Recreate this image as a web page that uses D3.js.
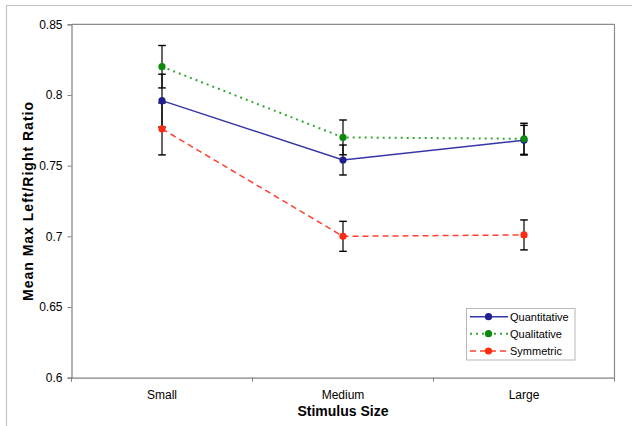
<!DOCTYPE html>
<html><head><meta charset="utf-8">
<script src="https://cdn.jsdelivr.net/npm/d3@7"></script>
<style>html,body{margin:0;padding:0;background:#fff;}svg{display:block;font-family:"Liberation Sans",Arial,sans-serif;}</style>
</head><body>
<script>
const categories = ["Small", "Medium", "Large"];
const quantitative = [0.796, 0.754, 0.768];
const quantitativeErr = [0.0187, 0.0106, 0.0105];
const qualitative = [0.820, 0.770, 0.769];
const qualitativeErr = [0.015, 0.0123, 0.011];
const symmetric = [0.776, 0.700, 0.701];
const symmetricErr = [0.0184, 0.0106, 0.0106];
const yTicks = [0.6, 0.65, 0.7, 0.75, 0.8, 0.85];
const yTickLabels = ["0.6", "0.65", "0.7", "0.75", "0.8", "0.85"];
const seriesNames = ["Quantitative", "Qualitative", "Symmetric"];

const W = 632, H = 426;
const L = 71.5, R = 614.5, T = 24.3, B = 377.7;

const svg = d3.select("body").append("svg").attr("width", W).attr("height", H);

// outer frame
svg.append("line").attr("x1", 6).attr("x2", W).attr("y1", 5.5).attr("y2", 5.5).attr("stroke", "#c4c4c4").attr("stroke-width", 1.2);
svg.append("line").attr("x1", 6.5).attr("x2", 6.5).attr("y1", 5).attr("y2", H).attr("stroke", "#c4c4c4").attr("stroke-width", 1.2);

const x = d3.scaleBand().domain(categories).range([L, R]);
const y = d3.scaleLinear().domain([0.6, 0.85]).range([B, T]);
const cx = c => x(c) + x.bandwidth() / 2;

// plot border (top & right)
svg.append("line").attr("x1", L).attr("x2", R).attr("y1", T).attr("y2", T).attr("stroke", "#8c8c8c").attr("stroke-width", 1.2);
svg.append("line").attr("x1", R).attr("x2", R).attr("y1", T).attr("y2", B).attr("stroke", "#8c8c8c").attr("stroke-width", 1.2);

// y axis
const yAxis = d3.axisLeft(y).tickValues(yTicks).tickFormat((d, i) => yTickLabels[i]).tickSize(4).tickPadding(5);
const gy = svg.append("g").attr("transform", `translate(${L},0)`).call(yAxis);
gy.select(".domain").attr("stroke", "#808080").attr("stroke-width", 1.2);
gy.selectAll(".tick line").attr("stroke", "#808080");
gy.selectAll(".tick text").attr("font-size", 12).attr("fill", "#000").attr("font-family", "Liberation Sans, Arial, sans-serif");

// x axis
const xAxis = d3.axisBottom(x).tickSize(0).tickPadding(13);
const gx = svg.append("g").attr("transform", `translate(0,${B})`).call(xAxis);
gx.select(".domain").attr("stroke", "#808080").attr("stroke-width", 1.2);
gx.selectAll(".tick text").attr("font-size", 12).attr("fill", "#000").attr("font-family", "Liberation Sans, Arial, sans-serif");
// band boundary ticks
const bounds = [L].concat(categories.map(c => x(c) + x.bandwidth()));
gx.selectAll(".bt").data(bounds).enter().append("line")
  .attr("x1", d => d).attr("x2", d => d).attr("y1", 0).attr("y2", 4)
  .attr("stroke", "#808080").attr("stroke-width", 1);

// titles
svg.append("text").attr("x", (L + R) / 2).attr("y", 416).attr("text-anchor", "middle")
  .attr("font-size", 14).attr("font-weight", "bold").text("Stimulus Size");
svg.append("text").attr("transform", `translate(32.5,${(T + B) / 2}) rotate(-90)`).attr("text-anchor", "middle")
  .attr("font-size", 14).attr("font-weight", "bold").attr("letter-spacing", 1).text("Mean Max Left/Right Ratio");

const series = [
  {name: seriesNames[0], vals: quantitative, err: quantitativeErr, line: "#3535a8", marker: "#1f1f8f", dash: null, w: 1.5},
  {name: seriesNames[1], vals: qualitative, err: qualitativeErr, line: "#33a833", marker: "#0b8a0b", dash: "2,4", w: 2},
  {name: seriesNames[2], vals: symmetric, err: symmetricErr, line: "#ff4030", marker: "#ff2a10", dash: "6,4", w: 1.5}
];

// error bars
const eb = svg.append("g");
series.forEach(s => {
  categories.forEach((c, i) => {
    const xc = cx(c), yt = y(s.vals[i] + s.err[i]), yb = y(s.vals[i] - s.err[i]);
    eb.append("line").attr("x1", xc).attr("x2", xc).attr("y1", yt).attr("y2", yb).attr("stroke", "#000").attr("stroke-width", 1.2);
    [yt, yb].forEach(yy => eb.append("line").attr("x1", xc - 3.8).attr("x2", xc + 3.8).attr("y1", yy).attr("y2", yy).attr("stroke", "#000").attr("stroke-width", 1.4));
  });
});

// lines
const lineGen = d3.line().x((d, i) => cx(categories[i])).y(d => y(d));
series.forEach(s => {
  svg.append("path").datum(s.vals).attr("d", lineGen).attr("fill", "none")
    .attr("stroke", s.line).attr("stroke-width", s.w).attr("stroke-dasharray", s.dash);
});
// markers
series.forEach(s => {
  svg.selectAll(null).data(s.vals).enter().append("circle")
    .attr("cx", (d, i) => cx(categories[i])).attr("cy", d => y(d)).attr("r", 3.6).attr("fill", s.marker);
});

// legend
const lg = svg.append("g");
lg.append("rect").attr("x", 466.5).attr("y", 308.5).attr("width", 108.5).attr("height", 51.5)
  .attr("fill", "#fff").attr("stroke", "#b8b8b8").attr("stroke-width", 1);
const rowsY = [316.7, 333.7, 351];
series.forEach((s, i) => {
  lg.append("line").attr("x1", 470).attr("x2", 508).attr("y1", rowsY[i]).attr("y2", rowsY[i])
    .attr("stroke", s.line).attr("stroke-width", s.w).attr("stroke-dasharray", s.dash);
  lg.append("circle").attr("cx", 488.5).attr("cy", rowsY[i]).attr("r", 3.6).attr("fill", s.marker);
  lg.append("text").attr("x", 510).attr("y", rowsY[i] + 4).attr("font-size", 11).attr("fill", "#000").text(s.name);
});
</script>
</body></html>
